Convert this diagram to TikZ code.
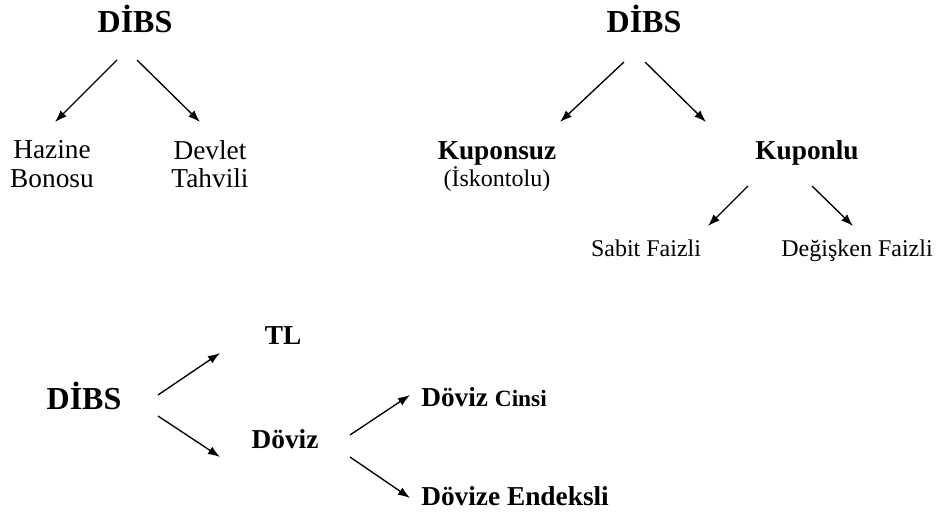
\documentclass[tikz,border=0pt]{standalone}
\usepackage{fontspec}
\setmainfont{Liberation Serif}
\usepackage{tikz}
\usetikzlibrary{arrows.meta}
\tikzstyle{root} = [inner sep=0pt, font=\bfseries\fontsize{24}{26}\selectfont]
\tikzstyle{bleaf} = [inner sep=0pt, font=\bfseries\fontsize{20.5}{23}\selectfont]
\tikzstyle{leaf} = [inner sep=0pt, align=center, font=\fontsize{20.5}{21.5}\selectfont]
\tikzstyle{sleaf} = [inner sep=0pt, font=\fontsize{18}{20}\selectfont]
\tikzstyle{link} = [->, line width=1pt]

\begin{document}
\begin{tikzpicture}[x=0.75pt, y=-0.75pt, >={Latex[length=9pt,width=6.5pt]}]
        \useasboundingbox (0,0) rectangle (939,517);
        % First tree: Hazine Bonosu / Devlet Tahvili
        \node [root, anchor=base] (dibsA) at (135,33) {DİBS};
        \node [leaf] (hazine) at (52,164) {Hazine\\Bonosu};
        \node [leaf] (devlet) at (210,164) {Devlet\\Tahvili};

        % Second tree: kupon
        \node [root, anchor=base] (dibsB) at (644,33) {DİBS};
        \node [bleaf, anchor=base] (kuponsuz) at (497,159) {Kuponsuz};
        \node [sleaf, anchor=base] (iskontolu) at (497,186) {(İskontolu)};
        \node [bleaf, anchor=base] (kuponlu) at (807,159) {Kuponlu};
        \node [sleaf, anchor=base] (sabit) at (646,256) {Sabit Faizli};
        \node [sleaf, anchor=base] (degisken) at (857,256) {Değişken Faizli};

        % Third tree: para birimi
        \node [root, anchor=base] (dibsC) at (84,409) {DİBS};
        \node [bleaf, anchor=base] (tl) at (283,344) {TL};
        \node [bleaf, anchor=base] (doviz) at (285,448) {Döviz};
        \node [bleaf, anchor=base west] (cinsi) at (421,406)
        {Döviz {\fontsize{17.5}{20}\selectfont Cinsi}};
        \node [bleaf, anchor=base west] (endeksli) at (421,505) {Dövize Endeksli};

        % Arrows between the nodes
        \draw [link] ([shift={(-18,27)}]dibsA.base) -- ([shift={(3,-42)}]hazine.center);
        \draw [link] ([shift={(2,27)}]dibsA.base) -- ([shift={(-10,-42)}]devlet.center);
        \draw [link] ([shift={(-20,29)}]dibsB.base) -- ([shift={(63,-37)}]kuponsuz.base);
        \draw [link] ([shift={(1,29)}]dibsB.base) -- ([shift={(-101,-37)}]kuponlu.base);
        \draw [link] ([shift={(-59,27)}]kuponlu.base) -- ([shift={(62,-30)}]sabit.base);
        \draw [link] ([shift={(5,27)}]kuponlu.base) -- ([shift={(-4,-30)}]degisken.base);
        \draw [link] ([shift={(74,-14)}]dibsC.base) -- ([shift={(-63,9)}]tl.base);
        \draw [link] ([shift={(74,7)}]dibsC.base) -- ([shift={(-65,9)}]doviz.base);
        \draw [link] ([shift={(65,-13)}]doviz.base) -- ([shift={(-11,-11)}]cinsi.base west);
        \draw [link] ([shift={(65,9)}]doviz.base) -- ([shift={(-11,-7)}]endeksli.base west);
\end{tikzpicture}
\end{document}
